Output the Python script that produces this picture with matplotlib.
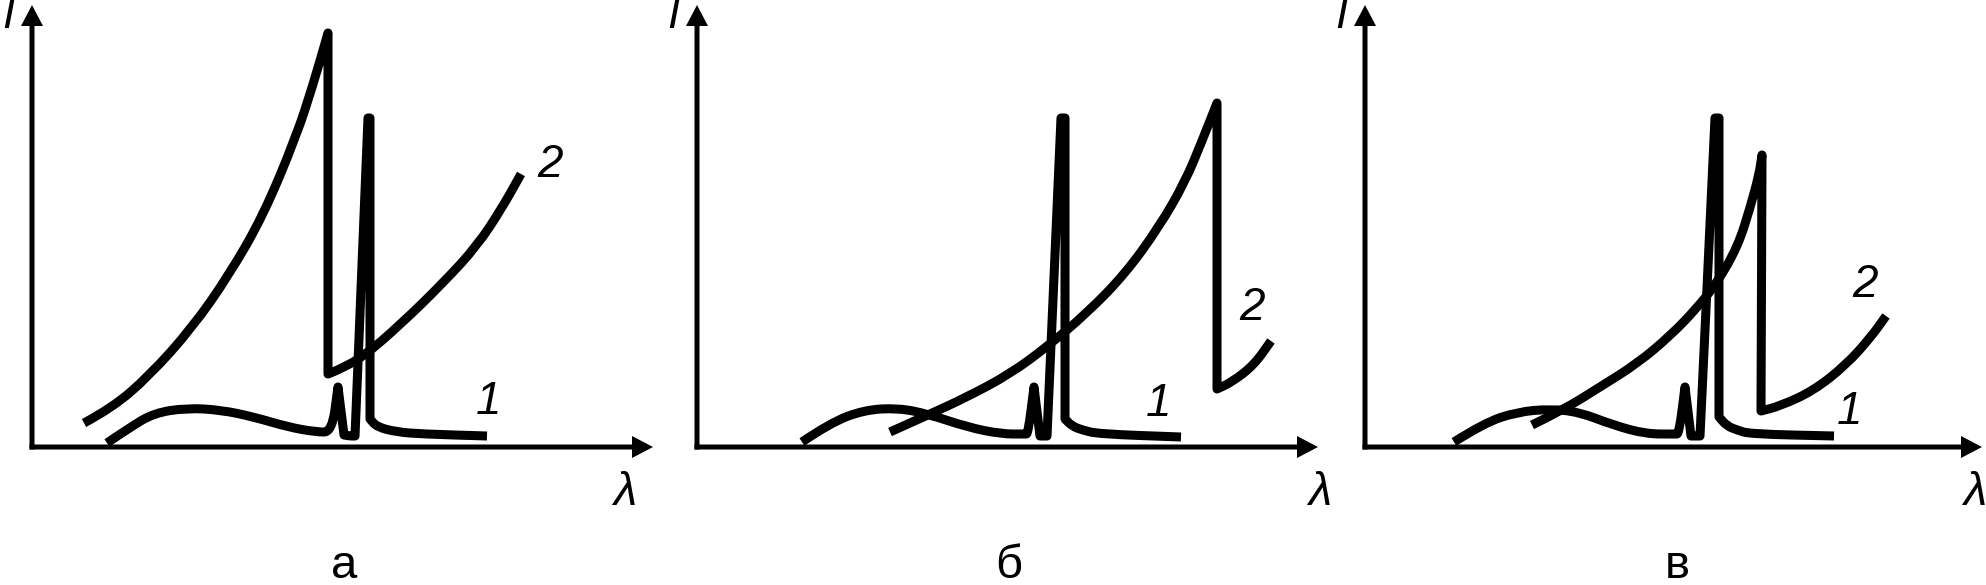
import matplotlib
matplotlib.use("Agg")
import matplotlib.pyplot as plt
from matplotlib import font_manager
from matplotlib.path import Path
from matplotlib.patches import PathPatch

# ========== Data (pixel-like units, origin at axes corner) ==========
# a point given twice is a sharp corner of the curve

# panel "а"
a_curve1_x = [75, 97, 122, 155, 189, 222, 256, 284, 300, 306, 306, 312, 312, 318, 323, 323, 336, 336, 338, 338, 338, 338, 345, 365, 390, 455]
a_curve1_y = [4, 19, 34, 39, 37, 30, 20, 15, 15, 60, 60, 12, 12, 11, 11, 11, 329, 329, 329, 329, 28, 28, 20, 15, 13, 11]
a_curve2_x = [52, 80, 117, 160, 197, 231, 264, 281, 296, 296, 296, 296, 306, 331, 369, 411, 445, 470, 489]
a_curve2_y = [24, 39, 71, 119, 172, 231, 310, 362, 414, 414, 73, 73, 77, 90, 123, 164, 201, 239, 273]

# panel "б"
b_curve1_x = [105, 133, 167, 201, 231, 270, 304, 328, 331, 337, 337, 343, 343, 350, 350, 364, 364, 368, 368, 368, 368, 375, 385, 402, 484]
b_curve1_y = [5, 24, 37, 39, 33, 20, 13, 13, 13, 60, 60, 11, 11, 11, 11, 329, 329, 329, 329, 28, 28, 21, 17, 13, 10]
b_curve2_x = [193, 231, 270, 313, 351, 390, 428, 462, 488, 505, 520, 520, 520, 520, 535, 557, 574]
b_curve2_y = [15, 32, 50, 73, 101, 134, 173, 220, 265, 306, 344, 344, 58, 58, 65, 82, 106]

# panel "в"
c_curve1_x = [89, 119, 152, 185, 214, 248, 281, 310, 314, 320, 320, 326, 326, 335, 335, 350, 350, 354, 354, 354, 354, 362, 372, 385, 469]
c_curve1_y = [5, 24, 35, 38, 35, 22, 13, 13, 13, 60, 60, 11, 11, 11, 11, 329, 329, 329, 329, 30, 30, 21, 17, 13, 11]
c_curve2_x = [167, 198, 235, 273, 306, 331, 352, 373, 385, 394, 397, 397, 396, 396, 415, 448, 481, 506, 521]
c_curve2_y = [22, 37, 60, 84, 112, 138, 164, 201, 239, 272, 292, 292, 36, 36, 41, 56, 82, 110, 131]

panel_names = ["а", "б", "в"]

# ========== Layout ==========
W, H = 1986, 585
origins = [32, 697, 1365]      # x of each y-axis in pixels
base_y = 447                   # y of the x-axes in pixels (from top)
x_ends = [621, 621, 617]       # arrow tip of x-axis
y_end = 442                    # arrow tip of y-axis
label1_pos = [(457, 45), (462, 43), (485, 35)]
label2_pos = [(518, 282), (555, 139), (500, 162)]
lambda_x = [593, 623, 610]

curves = [
    (a_curve1_x, a_curve1_y, a_curve2_x, a_curve2_y),
    (b_curve1_x, b_curve1_y, b_curve2_x, b_curve2_y),
    (c_curve1_x, c_curve1_y, c_curve2_x, c_curve2_y),
]


def smooth_path(xs, ys):
    """Quadratic curve through the midpoints of the given points."""
    pts = list(zip(xs, ys))
    verts = [pts[0]]
    codes = [Path.MOVETO]
    for i in range(1, len(pts) - 1):
        mid = ((pts[i][0] + pts[i + 1][0]) / 2, (pts[i][1] + pts[i + 1][1]) / 2)
        verts += [pts[i], mid]
        codes += [Path.CURVE3, Path.CURVE3]
    verts.append(pts[-1])
    codes.append(Path.LINETO)
    return Path(verts, codes)


# pick an Arial-like font that is really installed
installed = {f.name for f in font_manager.fontManager.ttflist}
sans = next((n for n in ['Liberation Sans', 'Arial', 'Arimo', 'Roboto', 'Open Sans']
             if n in installed), 'DejaVu Sans')
plt.rcParams['font.family'] = [sans, 'DejaVu Sans']

fig = plt.figure(figsize=(W / 100, H / 100), dpi=100)
fig.patch.set_facecolor("white")

x_lo, x_hi = -32, 625
for i, (c1x, c1y, c2x, c2y) in enumerate(curves):
    ox = origins[i]
    ax = fig.add_axes([(ox + x_lo) / W, 0, (x_hi - x_lo) / W, 1])
    ax.set_xlim(x_lo, x_hi)
    ax.set_ylim(base_y - H, base_y)
    ax.axis('off')

    # axes with arrow heads
    ax.arrow(-2.5, 0, x_ends[i] + 2.5, 0, width=5, head_width=22, head_length=21,
             length_includes_head=True, color='black', lw=0)
    ax.arrow(0, -2.5, 0, y_end + 2.5, width=5, head_width=22, head_length=21,
             length_includes_head=True, color='black', lw=0)

    for xs, ys in [(c1x, c1y), (c2x, c2y)]:
        ax.add_patch(PathPatch(smooth_path(xs, ys), fill=False, edgecolor='black',
                               lw=6.5, joinstyle='round', capstyle='butt'))

    ax.text(*label1_pos[i], "1", fontsize=33, style='italic', ha='center', va='center')
    ax.text(*label2_pos[i], "2", fontsize=33, style='italic', ha='center', va='center')
    ax.text(-24, 430, "I", fontsize=32, style='italic', ha='center', va='center')
    ax.text(lambda_x[i], -46, "λ", fontsize=34, style='italic', ha='center', va='center')
    ax.text(312, -131, panel_names[i], fontsize=34, ha='center', va='baseline')

fig.savefig("out.png", dpi=100, facecolor="white")
